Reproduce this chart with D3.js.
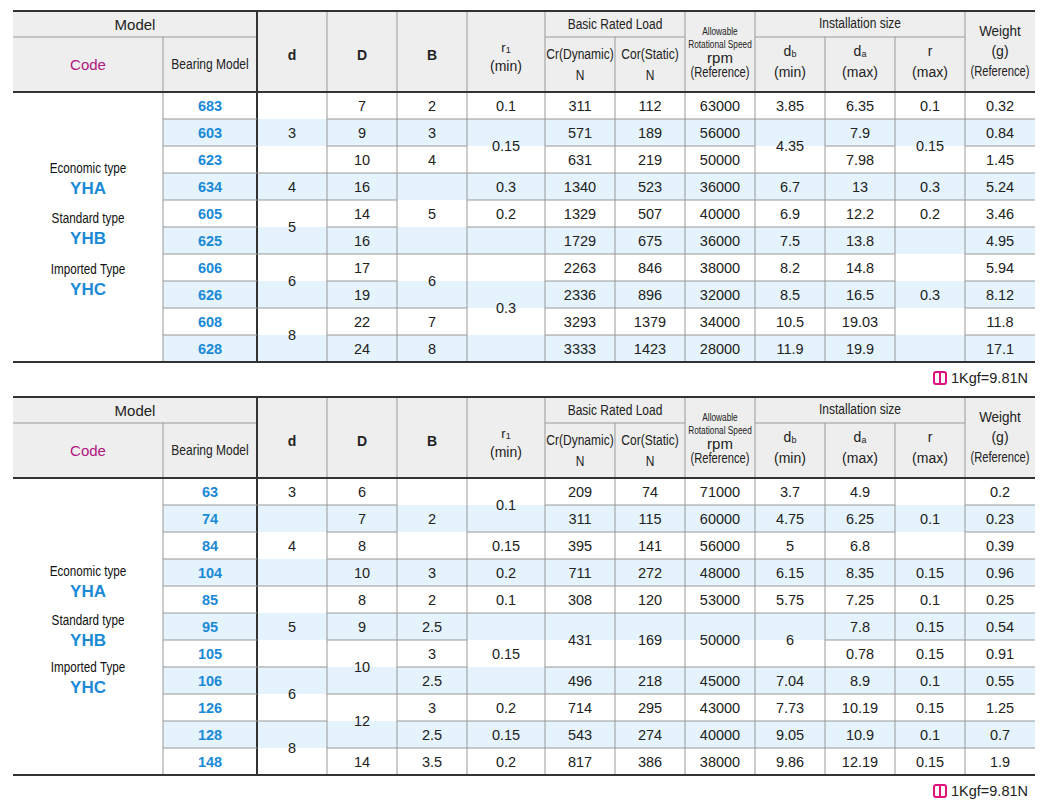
<!DOCTYPE html>
<html><head><meta charset="utf-8">
<script src="https://cdn.jsdelivr.net/npm/d3@7"></script>
<style>body{margin:0;background:#fff}</style></head>
<body><svg id="c" width="1060" height="811"></svg>
<script>
// ---- data ----
const models1 = ["683","603","623","634","605","625","606","626","608","628"];
const t1_d   = [["3",3],["4",1],["5",2],["6",2],["8",2]];
const t1_D   = [["7",1],["9",1],["10",1],["16",1],["14",1],["16",1],["17",1],["19",1],["22",1],["24",1]];
const t1_B   = [["2",1],["3",1],["4",1],["5",3],["6",2],["7",1],["8",1]];
const t1_r1  = [["0.1",1],["0.15",2],["0.3",1],["0.2",1],["",1],["0.3",4]];
const t1_Cr  = ["311","571","631","1340","1329","1729","2263","2336","3293","3333"];
const t1_Cor = ["112","189","219","523","507","675","846","896","1379","1423"];
const t1_rpm = ["63000","56000","50000","36000","40000","36000","38000","32000","34000","28000"];
const t1_db  = [["3.85",1],["4.35",2],["6.7",1],["6.9",1],["7.5",1],["8.2",1],["8.5",1],["10.5",1],["11.9",1]];
const t1_da  = ["6.35","7.9","7.98","13","12.2","13.8","14.8","16.5","19.03","19.9"];
const t1_r   = [["0.1",1],["0.15",2],["0.3",1],["0.2",1],["0.3",5]];
const t1_wt  = ["0.32","0.84","1.45","5.24","3.46","4.95","5.94","8.12","11.8","17.1"];

const models2 = ["63","74","84","104","85","95","105","106","126","128","148"];
const t2_d   = [["3",1],["4",3],["5",3],["6",2],["8",2]];
const t2_D   = [["6",1],["7",1],["8",1],["10",1],["8",1],["9",1],["10",2],["12",2],["14",1]];
const t2_B   = [["2",3],["3",1],["2",1],["2.5",1],["3",1],["2.5",1],["3",1],["2.5",1],["3.5",1]];
const t2_r1  = [["0.1",2],["0.15",1],["0.2",1],["0.1",1],["0.15",3],["0.2",1],["0.15",1],["0.2",1]];
const t2_Cr  = [["209",1],["311",1],["395",1],["711",1],["308",1],["431",2],["496",1],["714",1],["543",1],["817",1]];
const t2_Cor = [["74",1],["115",1],["141",1],["272",1],["120",1],["169",2],["218",1],["295",1],["274",1],["386",1]];
const t2_rpm = [["71000",1],["60000",1],["56000",1],["48000",1],["53000",1],["50000",2],["45000",1],["43000",1],["40000",1],["38000",1]];
const t2_db  = [["3.7",1],["4.75",1],["5",1],["6.15",1],["5.75",1],["6",2],["7.04",1],["7.73",1],["9.05",1],["9.86",1]];
const t2_da  = ["4.9","6.25","6.8","8.35","7.25","7.8","0.78","8.9","10.19","10.9","12.19"];
const t2_r   = [["0.1",3],["0.15",1],["0.1",1],["0.15",1],["0.15",1],["0.1",1],["0.15",1],["0.1",1],["0.15",1]];
const t2_wt  = ["0.2","0.23","0.39","0.96","0.25","0.54","0.91","0.55","1.25","0.7","1.9"];

const codeLines = [["Economic type","YHA"],["Standard type","YHB"],["Imported Type","YHC"]];
const note = "1Kgf=9.81N";

// ---- drawing ----
const svg = d3.select("#c");
const edges = [13,163,257,327,397,467,545,615,685,755,825,895,965,1035];
const NUM = "'Liberation Sans', Arial, sans-serif";
const single = a => a.map(v => Array.isArray(v) ? v : [v,1]);

function table(top, models, cols, codeY) {
  const g = svg.append("g");
  const hTop = top, hMid = top + 26, hBot = top + 81;
  const n = models.length;
  const y = d3.scaleLinear().domain([0, n]).range([hBot, hBot + 27*n]);
  const bot = y(n);
  g.append("rect").attr("x",13).attr("y",hTop).attr("width",1022).attr("height",hBot-hTop).attr("fill","#eeeeee");
  d3.range(n).filter(i => i%2===1).forEach(i=>{
    g.append("rect").attr("x",163).attr("y",y(i)).attr("width",872).attr("height",27).attr("fill","#e5f3fc");
  });
  const line=(x1,y1,x2,y2,c,w)=>g.append("line").attr("x1",x1).attr("y1",y1).attr("x2",x2).attr("y2",y2).attr("stroke",c).attr("stroke-width",w);
  const txt=(x,yy,s,o={})=>{
    const t = g.append("text").attr("x",x).attr("y",yy).attr("text-anchor","middle")
     .attr("dominant-baseline","central").attr("font-family",NUM).attr("font-size",o.s||14.5)
     .attr("font-weight",o.w||"normal").attr("fill",o.c||"#222").text(s);
    if (o.sub) t.append("tspan").attr("font-size",9).attr("dy",3).text(o.sub);
    if (o.n) t.attr("transform",`translate(${x},0) scale(${o.n},1) translate(${-x},0)`);
    return t;
  };
  line(13,hMid,257,hMid,"#999",1);
  line(545,hMid,685,hMid,"#999",1);
  line(755,hMid,965,hMid,"#999",1);
  edges.slice(1,-1).forEach(x=>{
    if (x===257) return;
    let y1 = hTop;
    if ([615,825,895,163].includes(x)) y1 = hMid;
    line(x,y1,x,bot,"#999",1);
  });
  line(257,hTop,257,bot,"#333",2);
  const hc = (a,b)=>(edges[a]+edges[b])/2;
  const N = 0.8;
  txt(hc(0,2),hTop+13,"Model",{s:15});
  txt(hc(0,1),(hMid+hBot)/2,"Code",{s:15,c:"#b0167f"});
  txt(hc(1,2),(hMid+hBot)/2,"Bearing Model",{s:15,n:N});
  ["d","D","B"].forEach((s,i)=>txt(hc(2+i,3+i),top+44,s,{s:14,w:"bold"}));
  txt(hc(5,6),top+36,"r",{s:13,sub:"1"});
  txt(hc(5,6),top+55,"(min)",{s:14});
  txt(hc(6,8),hTop+13,"Basic Rated Load",{s:15,n:N});
  txt(hc(6,7),hMid+17,"Cr(Dynamic)",{s:15,n:N}); txt(hc(6,7),hMid+38,"N",{s:15,n:N});
  txt(hc(7,8),hMid+17,"Cor(Static)",{s:15,n:N}); txt(hc(7,8),hMid+38,"N",{s:15,n:N});
  txt(hc(8,9),top+20,"Allowable",{s:11.5,n:0.72});
  txt(hc(8,9),top+33,"Rotational Speed",{s:11.5,n:0.72});
  txt(hc(8,9),top+46,"rpm",{s:15});
  txt(hc(8,9),top+62,"(Reference)",{s:14,n:0.8});
  txt(hc(9,12),hTop+12,"Installation size",{s:15,n:N});
  txt(hc(9,10),hMid+14,"d",{s:14,sub:"b"}); txt(hc(9,10),hMid+35,"(min)",{s:14});
  txt(hc(10,11),hMid+14,"d",{s:14,sub:"a"}); txt(hc(10,11),hMid+35,"(max)",{s:14});
  txt(hc(11,12),hMid+14,"r",{s:14}); txt(hc(11,12),hMid+35,"(max)",{s:14});
  txt(hc(12,13),top+20,"Weight",{s:15,n:0.9});
  txt(hc(12,13),top+40,"(g)",{s:14});
  txt(hc(12,13),top+61,"(Reference)",{s:14,n:0.8});
  models.forEach((m,i)=>{
    txt(hc(1,2),y(i)+13.5,m,{w:"bold",c:"#1b8ad6"});
    if (i>0) line(163,y(i),257,y(i),"#999",1);
  });
  cols.forEach((col,ci)=>{
    const a = edges[ci+2], b = edges[ci+3];
    let r = 0;
    single(col).forEach(([v,span])=>{
      if (r>0) line(a,y(r),b,y(r),"#999",1);
      txt((a+b)/2, (y(r)+y(r+span))/2, v);
      r += span;
    });
  });
  codeLines.forEach((p,i)=>{
    txt(hc(0,1),codeY[i],p[0],{s:15,n:0.78,c:"#111"});
    txt(hc(0,1),codeY[i]+20,p[1],{s:17,w:"bold",c:"#1b8ad6"});
  });
  line(13,hTop,1035,hTop,"#333",2);
  line(13,hBot,1035,hBot,"#333",2);
  line(13,bot,1035,bot,"#333",2);
  const ny = bot+16;
  g.append("rect").attr("x",934).attr("y",ny-6).attr("width",12).attr("height",12).attr("rx",2)
    .attr("fill","none").attr("stroke","#e0117f").attr("stroke-width",2);
  line(940,ny-5,940,ny+5,"#e0117f",2);
  g.append("text").attr("x",951).attr("y",ny).attr("dominant-baseline","central")
    .attr("font-family",NUM).attr("font-size",14.5).attr("fill","#222").text(note);
}

table(11, models1, [t1_d,t1_D,t1_B,t1_r1,t1_Cr,t1_Cor,t1_rpm,t1_db,t1_da,t1_r,t1_wt], [168,218,269]);
table(397, models2, [t2_d,t2_D,t2_B,t2_r1,t2_Cr,t2_Cor,t2_rpm,t2_db,t2_da,t2_r,t2_wt], [571,620,667]);
</script></body></html>
